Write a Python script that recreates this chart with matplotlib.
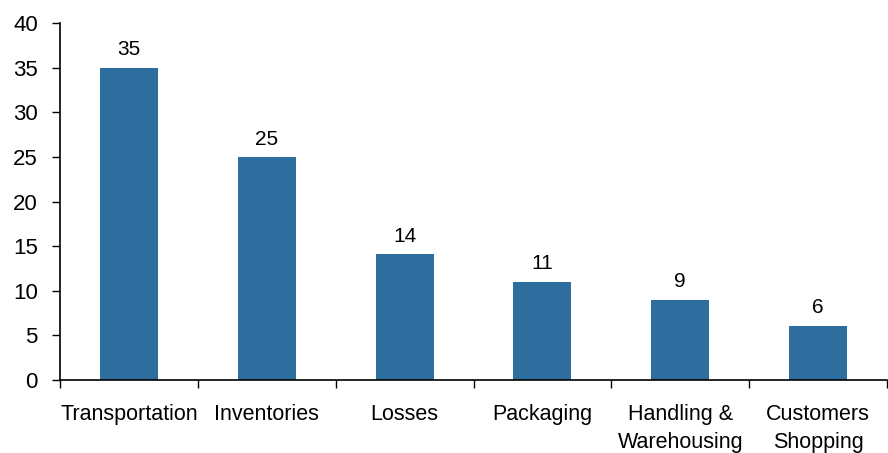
import matplotlib
matplotlib.use("Agg")
import matplotlib.pyplot as plt
import numpy as np

categories = ["Transportation", "Inventories", "Losses", "Packaging",
              "Handling &\nWarehousing", "Customers\nShopping"]
values = [35, 25, 14.1, 11, 9, 6.1]
labels = ["35", "25", "14", "11", "9", "6"]
yticks = [0, 5, 10, 15, 20, 25, 30, 35, 40]

plt.rcParams['font.family'] = ['Liberation Sans', 'DejaVu Sans']

W, H = 888, 453
fig = plt.figure(figsize=(W / 100, H / 100), dpi=100)
ax = fig.add_axes([60 / W, (H - 380) / H, (887 - 60) / W, (380 - 23) / H])

x = np.arange(len(categories))
bars = ax.bar(x, values, width=0.42, color='#2E6E9E', zorder=2)
for xi, v, lab in zip(x, values, labels):
    ax.annotate(lab, (xi, v), xytext=(0, 6), textcoords='offset points',
                ha='center', va='bottom', fontsize=15)

ax.set_xlim(-0.5, len(categories) - 0.5)
ax.set_ylim(0, 40)
ax.set_yticks(yticks)
ax.tick_params(axis='y', labelsize=16, length=6, width=1, direction='out', pad=10)

ax.set_xticks(np.arange(len(categories) + 1) - 0.5)
ax.set_xticklabels([])
ax.tick_params(axis='x', which='major', length=6, width=1, direction='out')
ax.set_xticks(x, minor=True)
ax.set_xticklabels(categories, minor=True, fontsize=15.5, linespacing=1.45)
ax.tick_params(axis='x', which='minor', length=0, pad=17)

for s in ['top', 'right']:
    ax.spines[s].set_visible(False)
for s in ['left', 'bottom']:
    ax.spines[s].set_linewidth(1.2)
    ax.spines[s].set_color('black')

fig.savefig("out.png", dpi=100)
